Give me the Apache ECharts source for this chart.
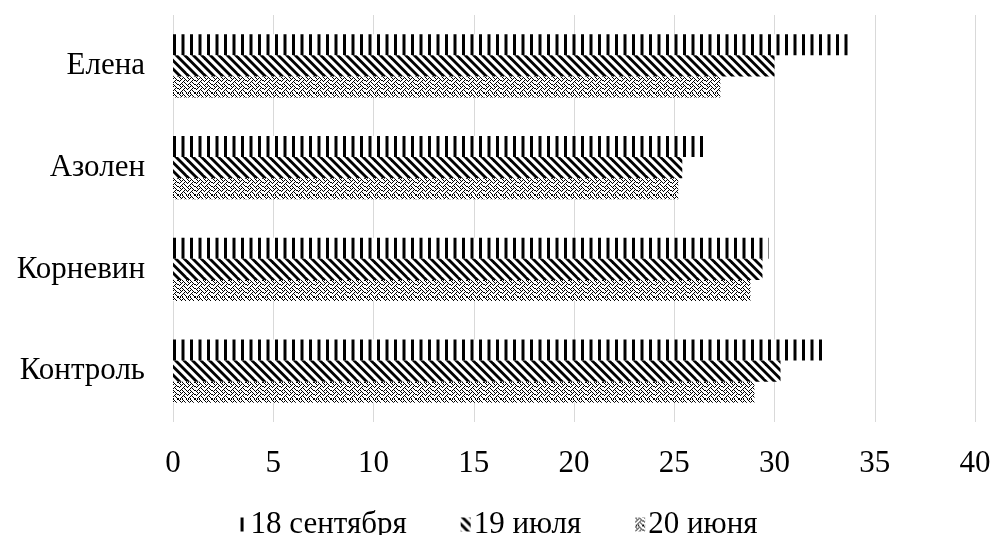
<!DOCTYPE html>
<html>
<head>
<meta charset="utf-8">
<script src="https://cdn.jsdelivr.net/npm/echarts@6/dist/echarts.min.js"></script>
<style>html,body{margin:0;padding:0;background:#fff}#c{width:995px;height:535px}</style>
</head>
<body>
<div id="c"></div>
<script>
const categories = ['Контроль', 'Корневин', 'Азолен', 'Елена'];
const sep18 = [32.6, 29.7, 26.5, 33.8];
const jul19 = [30.3, 29.4, 25.4, 30.0];
const jun20 = [29.0, 28.8, 25.2, 27.3];
const xTicks = [0, 5, 10, 15, 20, 25, 30, 35, 40];

function tile(draw) {
  const c = document.createElement('canvas');
  c.width = 17; c.height = 17;
  const g = c.getContext('2d');
  g.fillStyle = '#fff'; g.fillRect(0, 0, 17, 17);
  g.fillStyle = '#000';
  draw(g);
  return { image: c, repeat: 'repeat' };
}
const patVert = tile(g => { g.fillRect(3, 0, 3, 17); g.fillRect(11.5, 0, 3, 17); });
const patDiag = tile(g => {
  for (const k of [-17, -8.5, 0, 8.5, 17]) {
    g.beginPath();
    g.moveTo(k, 0); g.lineTo(k + 4, 0); g.lineTo(k + 21, 17); g.lineTo(k + 17, 17);
    g.closePath(); g.fill();
  }
});
// weave-like 8x8 hatch, repeated twice across the 17px tile
const bits = [
  '10001000',
  '01010100',
  '00100010',
  '01000101',
  '10001000',
  '00010100',
  '00100010',
  '01010001'
];
const patDot = tile(g => {
  for (let y = 0; y < 16; y++) for (let x = 0; x < 16; x++) {
    if (bits[y % 8][x % 8] === '1') {
      const x0 = Math.round(x * 17 / 16), x1 = Math.round((x + 1) * 17 / 16);
      const y0 = Math.round(y * 17 / 16), y1 = Math.round((y + 1) * 17 / 16);
      g.fillRect(x0, y0, Math.max(1, x1 - x0), Math.max(1, y1 - y0));
    }
  }
});

const chart = echarts.init(document.getElementById('c'));
const font = 'Liberation Serif';
chart.setOption({
  animation: false,
  grid: { left: 173, right: 20, top: 15, bottom: 113, containLabel: false },
  legend: {
    data: ['18 сентября', '19 июля', '20 июня'],
    top: 504, left: 'center', icon: 'rect', itemWidth: 10, itemHeight: 14, itemGap: 54,
    textStyle: { fontFamily: font, fontSize: 31, color: '#000', padding: [0, 0, 0, -2] }
  },
  xAxis: {
    type: 'value', min: xTicks[0], max: xTicks[xTicks.length - 1], interval: 5,
    axisLine: { show: false }, axisTick: { show: false },
    axisLabel: { fontFamily: font, fontSize: 31, color: '#000', margin: 26 },
    splitLine: { lineStyle: { color: '#d9d9d9', width: 1 } }
  },
  yAxis: {
    type: 'category', data: categories,
    axisLine: { show: false }, axisTick: { show: false },
    axisLabel: { fontFamily: font, fontSize: 31, color: '#000', margin: 28 }
  },
  series: [
    { name: '18 сентября', type: 'bar', data: sep18, itemStyle: { color: patVert }, barGap: '0%', barCategoryGap: '38%' },
    { name: '19 июля', type: 'bar', data: jul19, itemStyle: { color: patDiag }, barGap: '0%', barCategoryGap: '38%' },
    { name: '20 июня', type: 'bar', data: jun20, itemStyle: { color: patDot }, barGap: '0%', barCategoryGap: '38%' }
  ]
});
</script>
</body>
</html>
